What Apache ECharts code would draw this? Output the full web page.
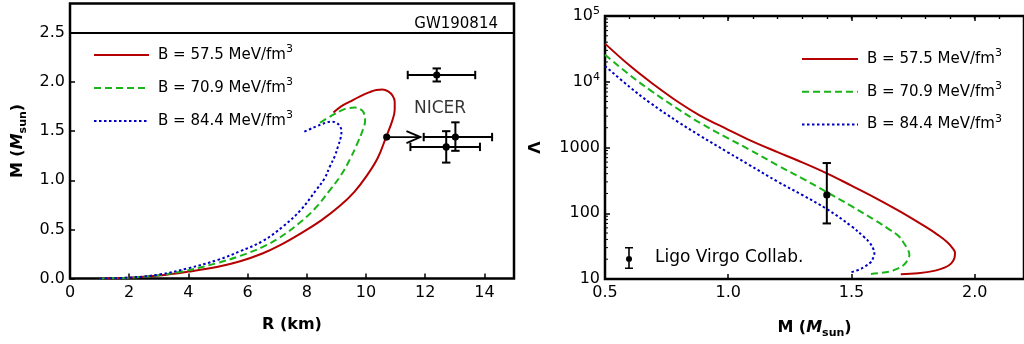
<!DOCTYPE html>
<html>
<head>
<meta charset="utf-8">
<script src="https://cdn.jsdelivr.net/npm/echarts@6/dist/echarts.min.js"></script>
<style>
  html, body { margin: 0; padding: 0; background: #fff; }
  #chart { width: 1024px; height: 344px; }
</style>
</head>
<body>
<div id="chart"></div>
<script>
// ---- Mass–radius sequences (R in km, M in solar masses) ----
const mrRadius575 = [1.0, 2.0, 3.0, 4.0, 5.0, 5.75, 6.5, 7.1, 7.77, 8.5, 9.12, 9.6, 10.01, 10.4, 10.69, 10.88, 10.97, 10.97, 10.9, 10.75, 10.55, 10.35, 10.1, 9.8, 9.45, 9.15, 8.9];
const mrMass575   = [0.0, 0.007, 0.03, 0.07, 0.12, 0.176, 0.255, 0.34, 0.455, 0.595, 0.74, 0.88, 1.04, 1.23, 1.45, 1.6, 1.72, 1.8, 1.86, 1.905, 1.924, 1.92, 1.895, 1.855, 1.8, 1.75, 1.69];

const mrRadius709 = [1.0, 2.0, 3.0, 4.0, 5.0, 5.75, 6.5, 7.1, 7.77, 8.3, 8.78, 9.15, 9.45, 9.7, 9.9, 9.97, 9.92, 9.8, 9.62, 9.42, 9.23, 8.85, 8.44];
const mrMass709   = [0.0, 0.008, 0.034, 0.085, 0.16, 0.23, 0.32, 0.42, 0.57, 0.72, 0.9, 1.05, 1.21, 1.37, 1.52, 1.61, 1.69, 1.725, 1.74, 1.735, 1.72, 1.66, 1.585];

const mrRadius844 = [1.0, 2.0, 3.0, 4.0, 5.0, 5.75, 6.5, 7.21, 7.8, 8.33, 8.6, 8.78, 8.95, 9.06, 9.15, 9.17, 9.12, 9.0, 8.85, 8.67, 8.5, 8.33, 8.1, 7.88];
const mrMass844   = [0.0, 0.009, 0.04, 0.105, 0.19, 0.278, 0.38, 0.533, 0.7, 0.906, 1.02, 1.14, 1.25, 1.35, 1.44, 1.5, 1.55, 1.585, 1.597, 1.59, 1.57, 1.55, 1.52, 1.49];

// ---- Tidal deformability sequences (M in solar masses, dimensionless Lambda) ----
const tdMass575   = [0.5, 0.6, 0.683, 0.8, 0.882, 1.0, 1.082, 1.2, 1.28, 1.4, 1.5, 1.6, 1.7, 1.8, 1.85, 1.89, 1.91, 1.92, 1.918, 1.905, 1.88, 1.84, 1.77, 1.7];
const tdLambda575 = [38000, 17600, 10000, 4830, 3120, 1860, 1320, 850, 640, 405, 263, 169, 105, 62.4, 47, 36, 29.5, 25, 21, 17.3, 15, 13.4, 12.2, 11.8];

const tdMass709   = [0.5, 0.6, 0.683, 0.8, 0.882, 1.0, 1.082, 1.2, 1.3, 1.4, 1.5, 1.6, 1.65, 1.692, 1.715, 1.73, 1.735, 1.728, 1.712, 1.685, 1.653, 1.573];
const tdLambda709 = [25700, 12700, 7460, 3760, 2410, 1375, 946, 537, 339, 210, 128, 76.4, 58, 44.7, 34, 27.5, 23.5, 19.5, 16.3, 14.3, 12.9, 11.9];

const tdMass844   = [0.5, 0.6, 0.683, 0.8, 0.882, 1.0, 1.082, 1.2, 1.3, 1.4, 1.5, 1.55, 1.573, 1.588, 1.593, 1.589, 1.58, 1.555, 1.533, 1.493];
const tdLambda844 = [17400, 8320, 4780, 2400, 1540, 836, 552, 303, 190, 116, 63.4, 43.9, 35.9, 29, 25, 21.5, 18.3, 15.5, 14, 12.5];

// ---- Bag constants ----
const bagNames = ['B = 57.5 MeV/fm^3', 'B = 70.9 MeV/fm^3', 'B = 84.4 MeV/fm^3'];

// ---- NICER mass-radius measurements ----
const nicerR   = [12.39, 13.02, 12.71];
const nicerRlo = [11.41, 11.95, 11.50];
const nicerRhi = [13.69, 14.26, 13.85];
const nicerM   = [2.072, 1.44, 1.34];
const nicerMlo = [2.006, 1.30, 1.18];
const nicerMhi = [2.139, 1.59, 1.50];

// ---- GW170817 tidal deformability at 1.4 Msun ----
const gwMass = [1.4];
const gwLambda = [190];
const gwLambdaLo = [70];
const gwLambdaHi = [580];

// ---- GW190814 secondary mass ----
const gw190814Mass = 2.5;

// ---- Radius lower bound marked with an arrow ----
const arrowStart = [10.7, 1.44];
const arrowEndR = 11.84;

// ---- Text annotation anchor ----
const nicerLabelAt = [12.5, 1.73];

// ---- Tick labels ----
const logTickLabels = { 10: '10', 100: '100', 1000: '1000', 10000: '10{sup|4}', 100000: '10{sup|5}' };

const FONT = 'DejaVu Sans';
const colors = ['#b40000', '#18b418', '#0000c4'];
const dashes = ['solid', [7, 4], [2.5, 2.5]];

const zip = (a, b) => a.map((v, i) => [v, b[i]]);

const mrSets = [zip(mrRadius575, mrMass575), zip(mrRadius709, mrMass709), zip(mrRadius844, mrMass844)];
const tdSets = [zip(tdMass575, tdLambda575), zip(tdMass709, tdLambda709), zip(tdMass844, tdLambda844)];

const supRich = {
  sup: { fontFamily: FONT, fontSize: 11, color: '#000', verticalAlign: 'top', lineHeight: 12 }
};

function errorBarItem(params, api) {
  const x = api.value(0), y = api.value(1);
  const xLo = api.value(2), xHi = api.value(3), yLo = api.value(4), yHi = api.value(5);
  const st = { stroke: '#000', lineWidth: 2 };
  const cap = 4.2;
  const kids = [];
  if (xHi > xLo) {
    const a = api.coord([xLo, y]), b = api.coord([xHi, y]);
    kids.push({ type: 'line', shape: { x1: a[0], y1: a[1], x2: b[0], y2: b[1] }, style: st });
    kids.push({ type: 'line', shape: { x1: a[0], y1: a[1] - cap, x2: a[0], y2: a[1] + cap }, style: st });
    kids.push({ type: 'line', shape: { x1: b[0], y1: b[1] - cap, x2: b[0], y2: b[1] + cap }, style: st });
  }
  if (yHi > yLo) {
    const a = api.coord([x, yLo]), b = api.coord([x, yHi]);
    kids.push({ type: 'line', shape: { x1: a[0], y1: a[1], x2: b[0], y2: b[1] }, style: st });
    kids.push({ type: 'line', shape: { x1: a[0] - cap, y1: a[1], x2: a[0] + cap, y2: a[1] }, style: st });
    kids.push({ type: 'line', shape: { x1: b[0] - cap, y1: b[1], x2: b[0] + cap, y2: b[1] }, style: st });
  }
  const c = api.coord([x, y]);
  kids.push({ type: 'circle', shape: { cx: c[0], cy: c[1], r: 3.6 }, style: { fill: '#000' } });
  return { type: 'group', children: kids };
}

function arrowItem(params, api) {
  const p0 = api.coord([api.value(0), api.value(1)]);
  const p1 = api.coord([api.value(2), api.value(1)]);
  const st = { stroke: '#000', lineWidth: 1.8, fill: null };
  return {
    type: 'group',
    children: [
      { type: 'line', shape: { x1: p0[0], y1: p0[1], x2: p1[0], y2: p1[1] }, style: st },
      { type: 'polyline', shape: { points: [[p1[0] - 14, p1[1] - 6], [p1[0], p1[1]], [p1[0] - 14, p1[1] + 6]] }, style: st },
      { type: 'circle', shape: { cx: p0[0], cy: p0[1], r: 3.6 }, style: { fill: '#000' } }
    ]
  };
}

// minor ticks of the logarithmic Lambda axis (2..9 in each decade)
const logMinor = [];
for (let d = 10; d < 100000; d *= 10) {
  for (let k = 2; k <= 9; k++) logMinor.push([0.5, k * d]);
}

const tickLabel = { fontFamily: FONT, fontSize: 16, color: '#000' };
const nameStyle = { fontFamily: FONT, fontSize: 16, fontWeight: 'bold', color: '#000' };
const massNameRich = {
  it: { fontFamily: FONT, fontSize: 16, fontWeight: 'bold', fontStyle: 'italic', color: '#000', lineHeight: 22 },
  b: { fontFamily: FONT, fontSize: 16, fontWeight: 'bold', color: '#000', lineHeight: 22 },
  sub: { fontFamily: FONT, fontSize: 11, fontWeight: 'bold', color: '#000', verticalAlign: 'bottom', lineHeight: 12 }
};

const legendText = {
  fontFamily: FONT, fontSize: 15, color: '#000', lineHeight: 22, padding: [0, 0, 0, 4], rich: supRich
};

const option = {
  animation: false,
  backgroundColor: '#fff',
  grid: [
    { left: 70, top: 3.5, width: 444, height: 275, show: true, borderColor: '#000', borderWidth: 2.5, backgroundColor: 'transparent' },
    { left: 605, top: 16, width: 425, height: 263, show: true, borderColor: '#000', borderWidth: 2.5, backgroundColor: 'transparent' }
  ],
  legend: [
    {
      orient: 'vertical', left: 93, top: 44, padding: 0, itemWidth: 55, itemHeight: 14, itemGap: 11,
      selectedMode: false, data: bagNames, itemStyle: { opacity: 0 },
      formatter: n => n.replace('^3', '{sup|3}'), textStyle: legendText
    },
    {
      orient: 'vertical', left: 801, top: 48, padding: 0, itemWidth: 56, itemHeight: 14, itemGap: 10.8,
      selectedMode: false, data: bagNames, itemStyle: { opacity: 0 },
      formatter: n => n.replace('^3', '{sup|3}'), textStyle: legendText
    },
    {
      left: 625, top: 247, padding: 0, itemWidth: 8, itemHeight: 22, selectedMode: false,
      data: [{
        name: 'Ligo Virgo Collab.',
        icon: 'path://M0,0H8V1.6H0Z M3.2,0H4.8V22H3.2Z M0,20.4H8V22H0Z M7,12A3,3,0,1,1,1,12A3,3,0,1,1,7,12Z'
      }],
      textStyle: { fontFamily: FONT, fontSize: 17, color: '#000', padding: [0, 0, 0, 17] }
    }
  ],
  xAxis: [
    {
      gridIndex: 0, type: 'value', min: 0, max: 15, interval: 2,
      name: 'R (km)', nameLocation: 'middle', nameGap: 38, nameTextStyle: nameStyle,
      axisLine: { show: false }, splitLine: { show: false },
      axisTick: { inside: true, length: 5, lineStyle: { color: '#000', width: 1.5 } },
      axisLabel: { ...tickLabel, margin: 6, showMaxLabel: false }
    },
    {
      gridIndex: 1, type: 'value', min: 0.5, max: 2.2, interval: 0.5,
      name: 'M ({it|M}{sub|sun})', nameLocation: 'middle', nameGap: 38,
      nameTextStyle: { ...nameStyle, rich: massNameRich },
      axisLine: { show: false }, splitLine: { show: false },
      axisTick: { inside: true, length: 5, lineStyle: { color: '#000', width: 1.5 } },
      axisLabel: { ...tickLabel, margin: 6, showMaxLabel: false, formatter: v => v.toFixed(1) }
    },
    {
      gridIndex: 1, type: 'value', min: 0.5, max: 2.2, interval: 0.1,
      axisLine: { show: false }, splitLine: { show: false }, axisLabel: { show: false },
      axisTick: { inside: true, length: 3, lineStyle: { color: '#000', width: 1.2 } }
    },
    {
      gridIndex: 1, type: 'value', position: 'top', min: 0.5, max: 2.2, interval: 0.5,
      axisLine: { show: false }, splitLine: { show: false }, axisLabel: { show: false },
      axisTick: { inside: true, length: 5, lineStyle: { color: '#000', width: 1.5 } }
    },
    {
      gridIndex: 1, type: 'value', position: 'top', min: 0.5, max: 2.2, interval: 0.1,
      axisLine: { show: false }, splitLine: { show: false }, axisLabel: { show: false },
      axisTick: { inside: true, length: 3, lineStyle: { color: '#000', width: 1.2 } }
    }
  ],
  yAxis: [
    {
      gridIndex: 0, type: 'value', min: 0, max: 2.8, interval: 0.5,
      name: '{b|M (}{it|M}{sub|sun}{b|)}', nameLocation: 'middle', nameGap: 41, nameRotate: 90,
      nameTextStyle: { ...nameStyle, rich: massNameRich },
      axisLine: { show: false }, splitLine: { show: false },
      axisTick: { inside: true, length: 5, lineStyle: { color: '#000', width: 1.5 } },
      axisLabel: { ...tickLabel, margin: 5, showMaxLabel: false, formatter: v => v.toFixed(1) }
    },
    {
      gridIndex: 1, type: 'log', logBase: 10, min: 10, max: 100000,
      name: 'Λ', nameLocation: 'middle', nameGap: 61, nameRotate: 90, nameTextStyle: nameStyle,
      axisLine: { show: false }, splitLine: { show: false },
      axisTick: { inside: true, length: 5, lineStyle: { color: '#000', width: 1.5 } },
      axisLabel: {
        ...tickLabel, margin: 5, lineHeight: 20,
        rich: { sup: { fontFamily: FONT, fontSize: 11, color: '#000', verticalAlign: 'top', lineHeight: 12 } },
        formatter: v => logTickLabels[Math.round(v)] || ''
      }
    }
  ],
  series: [
    // mass-radius curves
    ...mrSets.map((d, i) => ({
      name: bagNames[i], type: 'line', xAxisIndex: 0, yAxisIndex: 0, data: d,
      symbol: 'none', smooth: 0.4, color: colors[i],
      lineStyle: { color: colors[i], width: 2, type: dashes[i] }, z: 3
    })),
    // GW190814 mass line
    {
      name: 'GW190814', type: 'line', xAxisIndex: 0, yAxisIndex: 0, data: [],
      markLine: {
        silent: true, symbol: 'none', animation: false,
        data: [{ yAxis: gw190814Mass }],
        lineStyle: { color: '#000', width: 1.8, type: 'solid' },
        label: { show: true, position: 'insideEndTop', formatter: 'GW190814', fontFamily: FONT, fontSize: 15, color: '#000', padding: [0, 15, 0, 0], distance: 1 }
      }
    },
    // NICER measurements
    {
      name: 'NICER', type: 'custom', xAxisIndex: 0, yAxisIndex: 0,
      dimensions: ['R', 'M', 'Rlo', 'Rhi', 'Mlo', 'Mhi'], encode: { x: 0, y: 1 },
      data: nicerR.map((r, i) => [r, nicerM[i], nicerRlo[i], nicerRhi[i], nicerMlo[i], nicerMhi[i]]),
      renderItem: errorBarItem, z: 4
    },
    {
      name: 'NICER label', type: 'scatter', xAxisIndex: 0, yAxisIndex: 0, data: [nicerLabelAt],
      symbolSize: 0, silent: true,
      label: { show: true, position: 'inside', formatter: 'NICER', fontFamily: FONT, fontSize: 17, color: '#000' }
    },
    {
      name: 'radius bound', type: 'custom', xAxisIndex: 0, yAxisIndex: 0,
      encode: { x: 0, y: 1 }, data: [[arrowStart[0], arrowStart[1], arrowEndR]],
      renderItem: arrowItem, z: 5
    },
    // tidal deformability curves
    ...tdSets.map((d, i) => ({
      name: bagNames[i], type: 'line', xAxisIndex: 1, yAxisIndex: 1, data: d,
      symbol: 'none', smooth: 0.4, color: colors[i],
      lineStyle: { color: colors[i], width: 2, type: dashes[i] }, z: 3
    })),
    {
      name: 'Ligo Virgo Collab.', type: 'custom', xAxisIndex: 1, yAxisIndex: 1,
      dimensions: ['M', 'L', 'Mlo', 'Mhi', 'Llo', 'Lhi'], encode: { x: 0, y: 1 },
      itemStyle: { color: '#000' },
      data: gwMass.map((m, i) => [m, gwLambda[i], m, m, gwLambdaLo[i], gwLambdaHi[i]]),
      renderItem: errorBarItem, z: 4
    },
    {
      name: 'log minor ticks', type: 'custom', xAxisIndex: 1, yAxisIndex: 1, silent: true,
      encode: { x: 0, y: 1 }, data: logMinor,
      renderItem: (params, api) => {
        const p = api.coord([api.value(0), api.value(1)]);
        return { type: 'line', shape: { x1: p[0], y1: p[1], x2: p[0] + 3, y2: p[1] }, style: { stroke: '#000', lineWidth: 1 } };
      }
    }
  ]
};

const chart = echarts.init(document.getElementById('chart'), null, { renderer: 'canvas' });
chart.setOption(option);
</script>
</body>
</html>
